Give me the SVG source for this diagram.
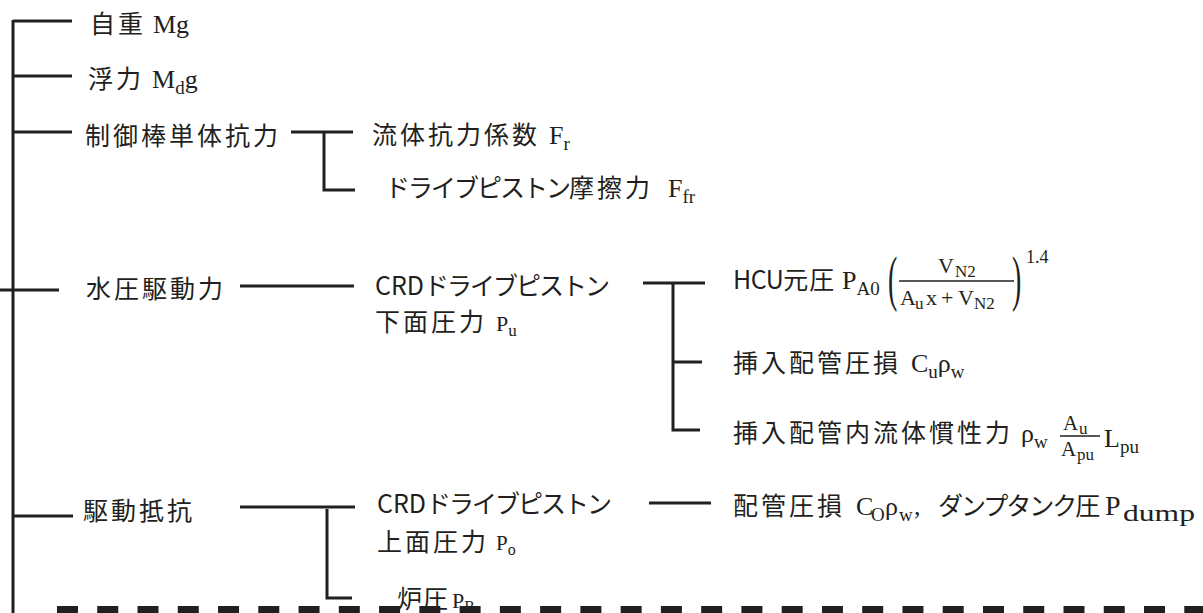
<svg xmlns="http://www.w3.org/2000/svg" width="1203" height="613" viewBox="0 0 1203 613">
<style>
.ln{stroke:#231f20;stroke-width:3;fill:none}
.j{font-family:"Noto Sans CJK JP","Noto Sans CJK SC",sans-serif;font-size:25px;fill:#231f20;letter-spacing:3px}
.k{letter-spacing:-2px}
.l{letter-spacing:0px}
.m{font-family:"Liberation Serif",serif;font-size:26px;fill:#231f20;letter-spacing:0px}
.s{font-size:19px}
.fr{stroke:#231f20;stroke-width:1.6}
</style>
<rect width="1203" height="613" fill="#ffffff"/>
<g id="connectors" class="ln">
<path d="M13 20V613"/>
<path d="M13 21H72"/>
<path d="M13 76H72"/>
<path d="M13 132H72"/>
<path d="M0 290H59"/>
<path d="M13 516H73"/>
<path d="M291 132H353M324 132V190H355"/>
<path d="M240 286H354"/>
<path d="M643 283H705M673 283V430H700M673 362H702"/>
<path d="M240 507H355M327 509V598H352"/>
<path d="M649 503H711"/>
</g>
<g id="boundary"><line x1="57" y1="611" x2="1203" y2="611" stroke="#231f20" stroke-width="10" stroke-dasharray="21 19.26"/></g>
<g id="n-jijuu"><text class="j" x="90" y="33">自重</text><text class="m" x="153" y="33">Mg</text></g>
<g id="n-furyoku"><text class="j" x="88" y="88">浮力</text><text class="m" x="152" y="88">M<tspan class="s" dy="6">d</tspan><tspan dy="-6">g</tspan></text></g>
<g id="n-seigyobou"><text class="j" x="85" y="145">制御棒単体抗力</text></g>
<g id="n-ryutai"><text class="j" x="372" y="144">流体抗力係数</text><text class="m" x="549" y="144">F<tspan class="s" dy="6">r</tspan></text></g>
<g id="n-masatsu"><text class="j" x="385" y="197"><tspan class="k">ドライブピストン</tspan>摩擦力</text><text class="m" x="668" y="197">F<tspan class="s" dy="6">fr</tspan></text></g>
<g id="n-suiatsu"><text class="j" x="86" y="298">水圧駆動力</text></g>
<g id="n-kamen"><text class="j" x="375" y="295"><tspan class="l">CRD</tspan><tspan class="k">ドライブピストン</tspan></text><text class="j" x="375" y="331">下面圧力</text><text class="m" x="496" y="331" style="font-size:22px">P<tspan style="font-size:17px" dy="5">u</tspan></text></g>
<g id="n-hcu">
<text class="j" x="733" y="289"><tspan style="letter-spacing:-0.5px">HCU</tspan><tspan style="letter-spacing:1px">元圧</tspan></text>
<text class="m" x="842" y="289">P<tspan class="s" dy="6">A0</tspan></text>
<text class="m" transform="translate(888 299) scale(0.45 1)" style="font-size:62px">(</text>
<text class="m" y="273" style="font-size:22px"><tspan x="938">V</tspan><tspan x="955" dy="4" style="font-size:17px">N2</tspan></text>
<line class="fr" x1="899" y1="281" x2="1014" y2="281"/>
<text class="m" y="305" style="font-size:22px"><tspan x="900">A</tspan><tspan x="915" dy="4" style="font-size:17px">u</tspan><tspan x="926" dy="-4">x</tspan><tspan x="941">+</tspan><tspan x="958">V</tspan><tspan x="974" dy="4" style="font-size:17px">N2</tspan></text>
<text class="m" transform="translate(1012 299) scale(0.45 1)" style="font-size:62px">)</text>
<text class="m" x="1026" y="263" style="font-size:18px">1.4</text>
</g>
<g id="n-sonyu-atsuson"><text class="j" x="733" y="372">挿入配管圧損</text><text class="m" x="911" y="372">C<tspan class="s" dy="6">u</tspan><tspan dy="-6">ρ</tspan><tspan class="s" dy="6">w</tspan></text></g>
<g id="n-sonyu-kansei"><text class="j" x="733" y="442">挿入配管内流体慣性力</text><text class="m" x="1021" y="442">ρ<tspan class="s" dy="6">w</tspan></text>
<text class="m" y="430" style="font-size:21px"><tspan x="1063">A</tspan><tspan x="1079" dy="4" style="font-size:17px">u</tspan></text>
<line class="fr" x1="1060" y1="436" x2="1100" y2="436"/>
<text class="m" y="456" style="font-size:21px"><tspan x="1061">A</tspan><tspan x="1077" dy="4" style="font-size:17px">pu</tspan></text>
<text class="m" x="1104" y="447">L<tspan class="s" dy="6">pu</tspan></text></g>
<g id="n-kudouteikou"><text class="j" x="83" y="520">駆動抵抗</text></g>
<g id="n-jomen"><text class="j" x="377" y="513"><tspan class="l">CRD</tspan><tspan class="k">ドライブピストン</tspan></text><text class="j" x="377" y="551">上面圧力</text><text class="m" x="496" y="550" style="font-size:21px">P<tspan style="font-size:16px" dy="5">o</tspan></text></g>
<g id="n-haikan"><text class="j" x="733" y="515">配管圧損</text><text class="m" y="515"><tspan x="856">C</tspan><tspan x="871" class="s" dy="6">O</tspan><tspan x="885" dy="-6">ρ</tspan><tspan x="899" class="s" dy="6">w</tspan><tspan x="914" dy="-6">,</tspan></text><text class="j" x="938" y="515"><tspan class="k">ダンプタンク</tspan>圧</text><text class="m" x="1105" y="515" style="font-size:28px">P</text><text class="m" x="1123" y="521" style="font-size:23px" textLength="72" lengthAdjust="spacingAndGlyphs">dump</text></g>
<g id="n-roatsu"><text class="j" x="397" y="608" style="letter-spacing:1px">炉圧</text><text class="m" x="452" y="608" style="font-size:22px">P<tspan style="font-size:16px" dy="4">R</tspan></text></g>
</svg>
